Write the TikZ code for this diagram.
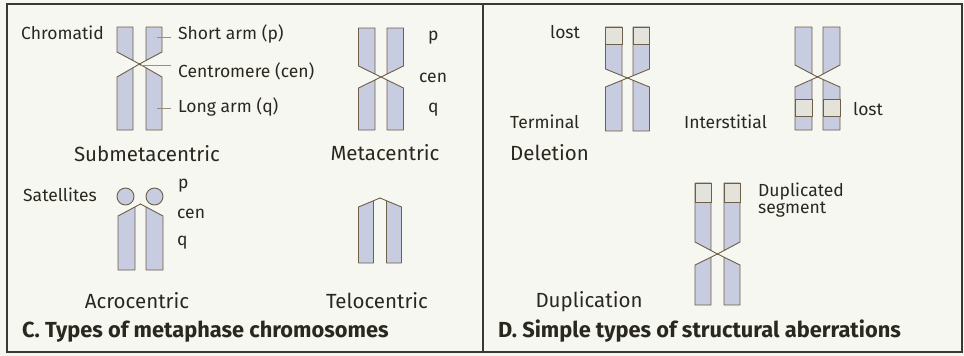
\documentclass[tikz,border=0pt]{standalone}
\usepackage{fontspec}
\setmainfont{Fira Sans}
\usetikzlibrary{calc}

\definecolor{paper}{HTML}{F7F7F2}
\definecolor{frame}{HTML}{3A3830}
\definecolor{armfill}{HTML}{C8CCE0}
\definecolor{armline}{HTML}{6E5F48}
\definecolor{lostfill}{HTML}{E3E3DC}
\definecolor{ink}{HTML}{2A281E}

\tikzset{
  arm/.style={fill=armfill, draw=armline, line width=0.9pt, line join=round},
  band/.style={fill=lostfill, draw=armline, line width=0.9pt},
  leader/.style={draw=armline!70, line width=0.7pt},
  label/.style={text=ink, inner sep=0pt, anchor=base west, font=\fontsize{17.5}{17}\selectfont},
  typename/.style={text=ink, inner sep=0pt, anchor=base, font=\fontsize{20.5}{24}\selectfont},
  caption/.style={text=ink, inner sep=0pt, anchor=base west, font=\fontsize{21.8}{24}\bfseries\selectfont},
}

% one chromatid arm: outer x, inner x, free end y, bevel corner y, centromere x, centromere y
\newcommand\drawarm[6]{%
  \pgfmathsetmacro\armfrac{(#2-#1)/(#5-#1)}%
  \filldraw[arm] (#1,#3) -- (#2,#3) -- ($(#1,#4)!\armfrac!(#5,#6)$) -- (#5,#6) -- (#1,#4) -- cycle;
}

% both lower arms: centre x, centre y, half gap, width, bevel corner y, bottom y
\newcommand\lowerarms[6]{%
  \pgfmathsetmacro\chLo{#1-#3-#4}\pgfmathsetmacro\chLi{#1-#3}%
  \pgfmathsetmacro\chRi{#1+#3}\pgfmathsetmacro\chRo{#1+#3+#4}%
  \drawarm{\chLo}{\chLi}{#6}{#5}{#1}{#2}%
  \drawarm{\chRo}{\chRi}{#6}{#5}{#1}{#2}%
}

% full X-shaped chromosome: centre x, centre y, half gap, width, top y, upper corner y, lower corner y, bottom y
\newcommand\xchromosome[8]{%
  \pgfmathsetmacro\chLo{#1-#3-#4}\pgfmathsetmacro\chLi{#1-#3}%
  \pgfmathsetmacro\chRi{#1+#3}\pgfmathsetmacro\chRo{#1+#3+#4}%
  \drawarm{\chLo}{\chLi}{#5}{#6}{#1}{#2}%
  \drawarm{\chRo}{\chRi}{#5}{#6}{#1}{#2}%
  \lowerarms{#1}{#2}{#3}{#4}{#7}{#8}%
}

\begin{document}
\begin{tikzpicture}[x=1pt, y=-1pt]
  \useasboundingbox (0,0) rectangle (964,356);
  \fill[paper] (0,0) rectangle (964,356);
  \draw[frame, line width=2.2pt] (7,4) rectangle (962,352);
  \draw[frame, line width=2.2pt] (483,4) -- (483,352);

  % ---------- C. Types of metaphase chromosomes ----------
  % submetacentric
  \xchromosome{139.5}{64}{6.5}{16}{27}{52}{77}{130}
  \node[label] (chromatid) at (21,39) {Chromatid};
  \node[label] (shortarm) at (178,39) {Short arm (p)};
  \node[label] (centro) at (178,77) {Centromere (cen)};
  \node[label] (longarm) at (178,112) {Long arm (q)};
  \coordinate (cenpt) at (139.5,65);
  \coordinate (ppt) at (157,37);
  \coordinate (qpt) at (157,108);
  \draw[leader, shorten >=7pt] (ppt) -- (shortarm.west |- ppt);
  \draw[leader, shorten >=7pt] (cenpt) -- (centro.west |- cenpt);
  \draw[leader, shorten >=7pt] (qpt) -- (longarm.west |- qpt);
  \node[typename] (submeta) at (147,161) {Submetacentric};

  % metacentric
  \xchromosome{381}{77}{6}{16.5}{28}{66}{88}{130}
  \node[label] (mp) at (428,40) {p};
  \node[label] (mcen) at (419,82) {cen};
  \node[label] (mq) at (428,112) {q};
  \node[typename] (meta) at (385,160) {Metacentric};

  % acrocentric
  \filldraw[arm] (125.5,196.5) circle[radius=8.5pt];
  \filldraw[arm] (154.5,196.5) circle[radius=8.5pt];
  \lowerarms{140.5}{204}{5.5}{17}{216}{270}
  \node[label] (satellites) at (23,201) {Satellites};
  \node[label] (ap) at (178,188) {p};
  \node[label] (acen) at (177,218) {cen};
  \node[label] (aq) at (177,245) {q};
  \node[typename] (acro) at (137,308) {Acrocentric};

  % telocentric
  \lowerarms{380}{198}{6.5}{15}{207}{263}
  \node[typename] (telo) at (377,308) {Telocentric};

  \node[caption] (captionC) at (22,337) {C. Types of metaphase chromosomes};

  % ---------- D. Simple types of structural aberrations ----------
  % terminal deletion
  \xchromosome{627.5}{78}{5.5}{16.5}{27}{69}{87}{131}
  \filldraw[band] (605.5,27) rectangle (622,44);
  \filldraw[band] (633,27) rectangle (649.5,44);
  \node[label] (lostA) at (550,38) {lost};
  \node[label] (terminal) at (510,128) {Terminal};
  \node[label, font=\fontsize{20.5}{24}\selectfont] (deletion) at (510,160) {Deletion};

  % interstitial deletion
  \xchromosome{817.5}{77}{5.5}{17}{27}{65}{87}{130}
  \filldraw[band] (795,99) rectangle (812,116);
  \filldraw[band] (823,99) rectangle (840,116);
  \node[label] (interstitial) at (684,128) {Interstitial};
  \node[label] (lostB) at (853,115) {lost};

  % duplication
  \xchromosome{717.5}{254}{6.5}{16}{183}{242}{265}{305}
  \filldraw[band] (695,183) rectangle (711,202);
  \filldraw[band] (724,183) rectangle (740,202);
  \node[label] (duplicated) at (758,196) {Duplicated};
  \node[label] (segment) at (758,213) {segment};
  \node[typename] (duplication) at (589,307) {Duplication};

  \node[caption] (captionD) at (498,337) {D. Simple types of structural aberrations};
\end{tikzpicture}
\end{document}
